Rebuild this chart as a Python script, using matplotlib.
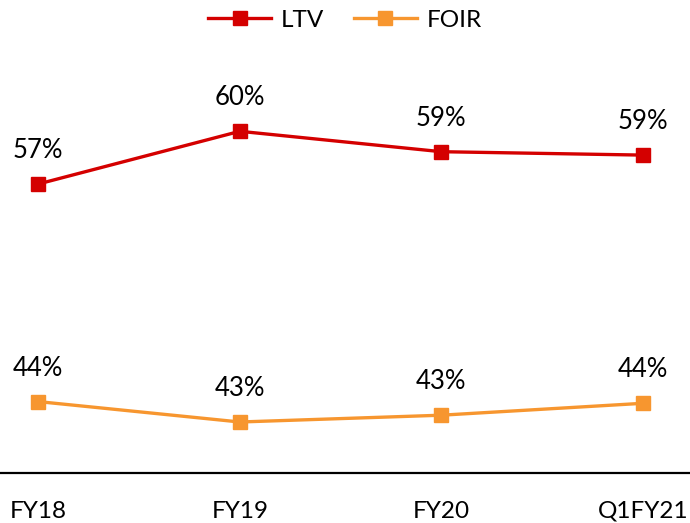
import matplotlib
matplotlib.use('Agg')
import matplotlib.pyplot as plt

plt.rcParams['font.family'] = ['Lato', 'DejaVu Sans']

categories = ['FY18', 'FY19', 'FY20', 'Q1FY21']
ltv = [57.0, 60.1, 58.9, 58.7]
foir = [44.2, 43.0, 43.4, 44.1]

red = '#D40000'
orange = '#F7962F'

fig = plt.figure(figsize=[6.9, 5.23], dpi=100)
ax = fig.add_axes([0, 50/523, 1, 425/523])

x = list(range(len(categories)))
ax.plot(x, ltv, color=red, lw=2.4, marker='s', ms=9.5, label='LTV')
ax.plot(x, foir, color=orange, lw=2.4, marker='s', ms=9.5, label='FOIR')

for xi, v in zip(x, ltv):
    ax.annotate('{:.0f}%'.format(v), (xi, v), xytext=(0, 15), textcoords='offset points',
                ha='center', va='bottom', fontsize=18.5)
for xi, v in zip(x, foir):
    ax.annotate('{:.0f}%'.format(v), (xi, v), xytext=(0, 15), textcoords='offset points',
                ha='center', va='bottom', fontsize=18.5)

ax.set_xlim(-0.19, 3.234)
ax.set_ylim(40, 65)
ax.set_xticks(x)
ax.set_xticklabels(categories, fontsize=17.5)
ax.tick_params(axis='x', length=0, pad=20)
ax.set_yticks([])
for s in ['left', 'right', 'top']:
    ax.spines[s].set_visible(False)
ax.spines['bottom'].set_linewidth(1.6)
ax.spines['bottom'].set_color('black')

fig.legend(loc='center', bbox_to_anchor=(0.5, 1 - 20/523), ncol=2, frameon=False,
           fontsize=17.5, handlelength=2.6, handletextpad=0.4, columnspacing=1.2)

fig.savefig('out.png', dpi=100)
